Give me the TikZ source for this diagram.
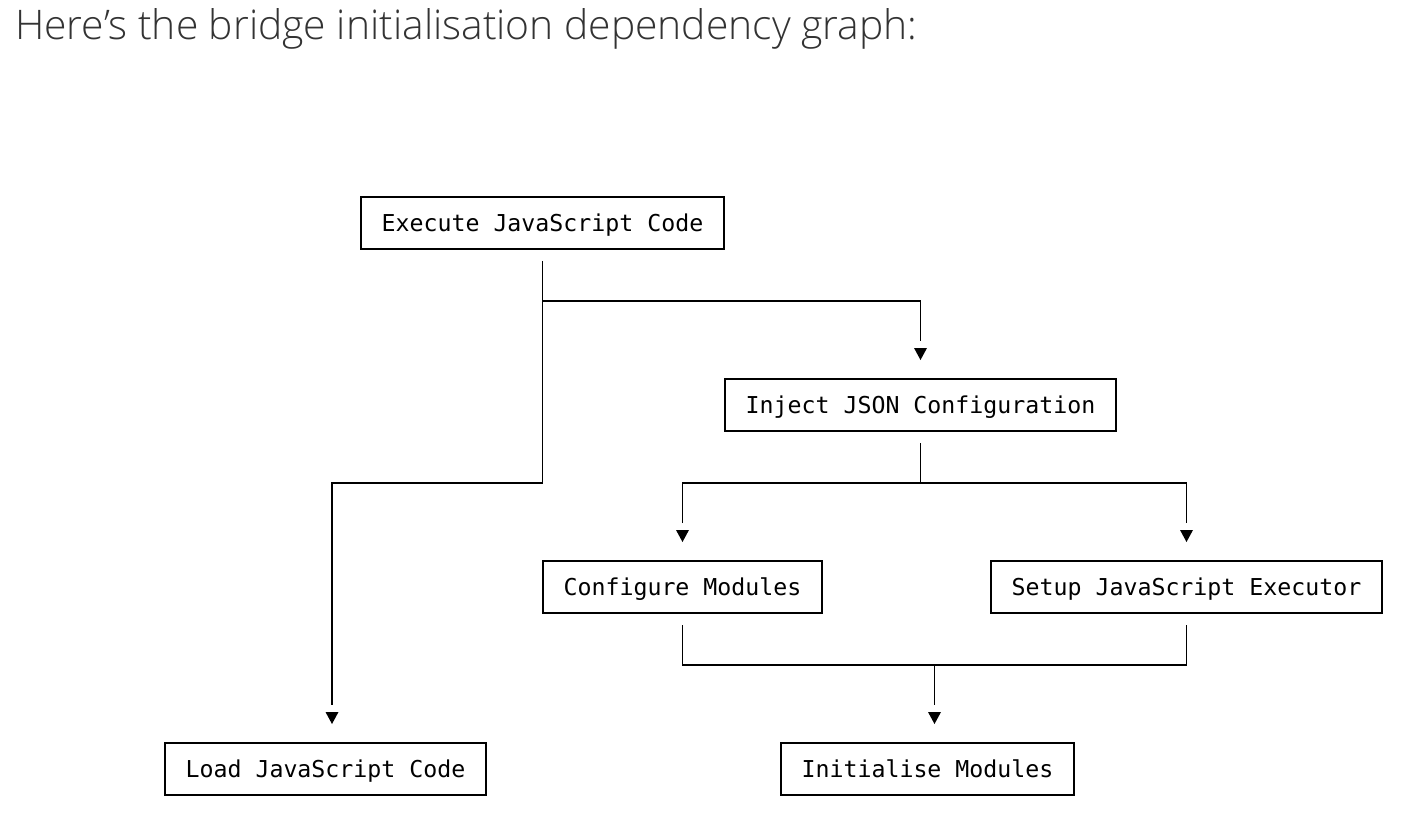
\documentclass[tikz,border=0pt]{standalone}
\usepackage{fontspec}
\setmonofont{DejaVu Sans Mono}
\newfontfamily\titlefont{Open Sans Light}
\definecolor{titlegray}{HTML}{333333}
\begin{document}
\begin{tikzpicture}[x=1pt,y=-1pt,
  box/.style={draw, line width=1.7pt, font=\ttfamily\fontsize{23.25pt}{28pt}\selectfont,
    inner xsep=20.5pt, inner ysep=0pt, minimum height=52pt, outer sep=0pt,
    text height=17pt, text depth=0pt},
  conn/.style={line width=1.7pt},
  downtri/.pic={\fill (-6.5pt,0pt) -- (6.5pt,0pt) -- (0pt,-12pt) -- cycle;}]
\useasboundingbox[fill=white] (0,0) rectangle (1408,826);
\node[anchor=base west, inner sep=0pt, font=\titlefont\fontsize{40.8pt}{48pt}\selectfont, text=titlegray] (title) at (15,40) {Here’s the bridge initialisation dependency graph:};

\node[box] (exec) at (542.5,223) {Execute JavaScript Code};
\node[box] (inject) at (920.5,405) {Inject JSON Configuration};
\node[box] (conf) at (682.5,587) {Configure Modules};
\node[box] (setup) at (1186.5,587) {Setup JavaScript Executor};
\node[box] (load) at (325.5,769) {Load JavaScript Code};
\node[box] (init) at (927.5,769) {Initialise Modules};

\coordinate (execOut) at ([yshift=-12pt]exec.south);
\coordinate (injIn) at ([yshift=38pt]inject.north);
\coordinate (loadIn) at ([xshift=6.5pt,yshift=38pt]load.north);
\coordinate (injOut) at ([yshift=-12pt]inject.south);
\coordinate (busA) at ([yshift=-40pt]injOut);
\coordinate (confIn) at ([yshift=38pt]conf.north);
\coordinate (setupIn) at ([yshift=38pt]setup.north);
\coordinate (confOut) at ([yshift=-12pt]conf.south);
\coordinate (setupOut) at ([yshift=-12pt]setup.south);
\coordinate (busB) at ([yshift=-40pt]confOut);
\coordinate (initIn) at ([xshift=7pt,yshift=38pt]init.north);

\draw[conn] (execOut) -- (execOut |- busA) -| (loadIn);
\draw[conn] (execOut) ++(0,40) -| (injIn);
\draw[conn] (injOut) -- (busA);
\draw[conn] (confIn) |- (busA) -| (setupIn);
\draw[conn] (confOut) |- (busB) -| (setupOut);
\draw[conn] (initIn |- busB) -- (initIn);

\pic at ([yshift=-7pt]injIn) {downtri};
\pic at ([yshift=-7pt]loadIn) {downtri};
\pic at ([yshift=-7pt]confIn) {downtri};
\pic at ([yshift=-7pt]setupIn) {downtri};
\pic at ([yshift=-7pt]initIn) {downtri};
\end{tikzpicture}
\end{document}
